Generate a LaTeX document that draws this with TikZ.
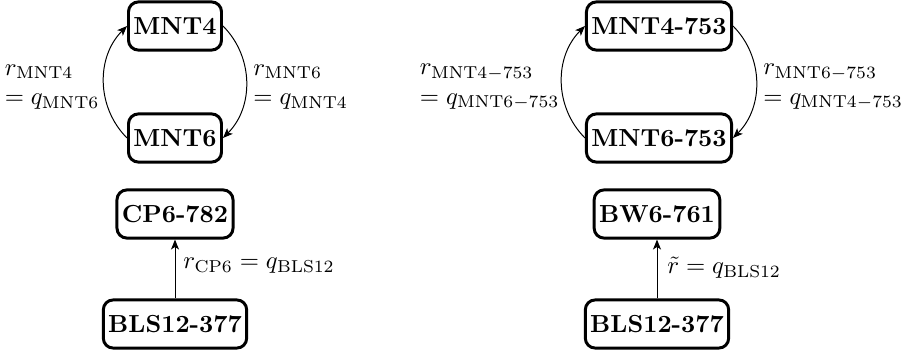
\documentclass[tikz,border=0pt]{standalone}
\usetikzlibrary{arrows.meta}
\begin{document}
\begin{tikzpicture}[x=0.405pt,y=-0.405pt,
  curve/.style={draw=black,very thick,rounded corners=4pt,inner xsep=2pt,minimum height=19.5pt,font=\bfseries},
  lbl/.style={inner sep=0pt,align=left},
  link/.style={-{Stealth[length=4pt,width=3.2pt,inset=1pt]},line width=0.4pt}]
\useasboundingbox (0,0) rectangle (903,356);
% left group
\node[curve] (m4) at (175,26) {MNT4};
\node[curve] (m6) at (175,138) {MNT6};
\draw[link] (m6.west) to[bend left=45] (m4.west);
\draw[link] (m4.east) to[bend left=45] (m6.east);
\node[lbl,anchor=east] (l1) at (100,87) {$r_{\mathrm{MNT4}}$\\$= q_{\mathrm{MNT6}}$};
\node[lbl,anchor=west] (l2) at (253,87) {$r_{\mathrm{MNT6}}$\\$= q_{\mathrm{MNT4}}$};
% right group
\node[curve] (n4) at (659,26) {MNT4-753};
\node[curve] (n6) at (659,138) {MNT6-753};
\draw[link] (n6.west) to[bend left=45] (n4.west);
\draw[link] (n4.east) to[bend left=45] (n6.east);
\node[lbl,anchor=east] (l3) at (560,87) {$r_{\mathrm{MNT4-753}}$\\$= q_{\mathrm{MNT6-753}}$};
\node[lbl,anchor=west] (l4) at (763,87) {$r_{\mathrm{MNT6-753}}$\\$= q_{\mathrm{MNT4-753}}$};
% bottom left
\node[curve] (cp) at (175,214) {CP6-782};
\node[curve] (b1) at (175,324) {BLS12-377};
\draw[link] (b1) -- (cp);
\node[lbl,anchor=west] (l5) at (183,266) {$r_{\mathrm{CP6}} = q_{\mathrm{BLS12}}$};
% bottom right
\node[curve] (bw) at (657,214) {BW6-761};
\node[curve] (b2) at (657,324) {BLS12-377};
\draw[link] (b2) -- (bw);
\node[lbl,anchor=west] (l6) at (667,268) {$\tilde{r} = q_{\mathrm{BLS12}}$};
\end{tikzpicture}
\end{document}
